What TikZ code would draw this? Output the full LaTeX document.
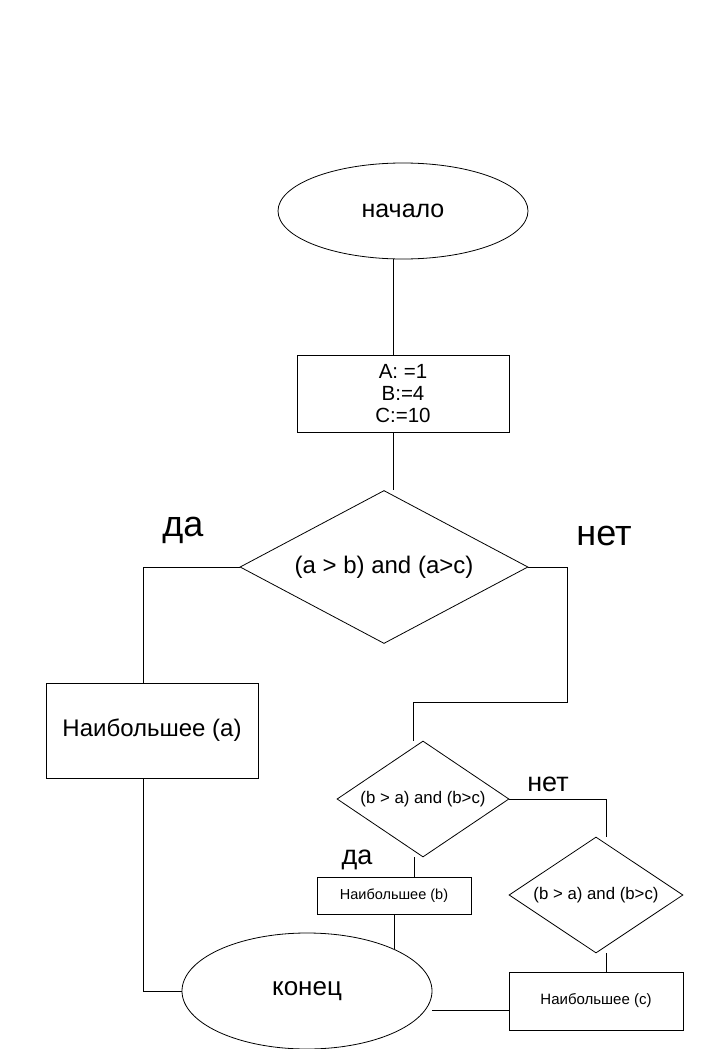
\documentclass[tikz,border=0pt]{standalone}
\usepackage{fontspec}
\setmainfont{Liberation Sans}
\usetikzlibrary{shapes.geometric}

\begin{document}
\begin{tikzpicture}[
        x=1pt, y=-1pt,
        line width=0.8pt,
        term/.style={draw, ellipse, minimum width=250pt, minimum height=96pt, font=\fontsize{25}{29}\selectfont},
        proc/.style={draw, rectangle, align=center, inner sep=0pt},
        cond/.style={draw, diamond, inner sep=0pt},
        hand/.style={font=\fontsize{36}{40}\selectfont},
        handsmall/.style={font=\fontsize{27}{30}\selectfont},
    ]
    \useasboundingbox (0,0) rectangle (707,1049);

    \node[term] (start) at (403,211) {начало};
    \node[proc, minimum width=212pt, minimum height=77pt, font=\fontsize{20.5}{22}\selectfont] (init) at (403,393.5) {A: =1\\B:=4\\C:=10};
    \node[cond, aspect=1.88, minimum width=288pt, minimum height=153pt, font=\fontsize{24}{28}\selectfont] (cond1) at (384,567) {(a > b) and (a>c)};
    \node[proc, minimum width=212pt, minimum height=95pt, font=\fontsize{24}{28}\selectfont] (maxa) at (152,730.5) {Наибольшее (a)};
    \node[cond, aspect=1.48, minimum width=172pt, minimum height=116pt, font=\fontsize{16.8}{20}\selectfont] (cond2) at (423,799) {(b > a) and (b>c)};
    \node[proc, minimum width=154pt, minimum height=37pt, font=\fontsize{14.5}{17}\selectfont] (maxb) at (394,895.5) {Наибольшее (b)};
    \node[cond, aspect=1.5, minimum width=174pt, minimum height=116pt, font=\fontsize{16.8}{20}\selectfont] (cond3) at (596,895) {(b > a) and (b>c)};
    \node[proc, minimum width=174pt, minimum height=58pt, font=\fontsize{15}{18}\selectfont] (maxc) at (596,1001) {Наибольшее (c)};
    \node[term, minimum height=116pt, font=\fontsize{26}{30}\selectfont] (stop) at (307,991) {конец};

    \node[hand] (yes1) at (183,530) {да};
    \node[hand] (no1) at (604,536) {нет};
    \node[handsmall] (no2) at (548,784) {нет};
    \node[handsmall] (yes2) at (357,860) {да};

    \coordinate (bend1) at (567,702);

    \draw ([xshift=-10pt]start.south) -- ([xshift=-10pt]init.north);
    \draw ([xshift=-10pt]init.south) -- ([xshift=-10pt]init.south |- cond1.north);
    \draw (cond1.west) -| ([xshift=-9pt]maxa.north);
    \draw ([xshift=-9pt]maxa.south) |- (stop.west);
    \draw (cond1.east) -| (bend1) -| ([xshift=-10pt]cond2.north);
    \draw ([xshift=-9pt]cond2.south) -- ([xshift=-9pt]cond2.south |- maxb.north);
    \draw (maxb.south) -- (maxb.south |- stop.26);
    \draw (cond2.east) -| ([xshift=10pt]cond3.north);
    \draw ([xshift=10pt]cond3.south) -- ([xshift=10pt]cond3.south |- maxc.north);
    \draw ([yshift=-9pt]maxc.west) -- ([yshift=-9pt]maxc.west -| stop.east);
\end{tikzpicture}
\end{document}
